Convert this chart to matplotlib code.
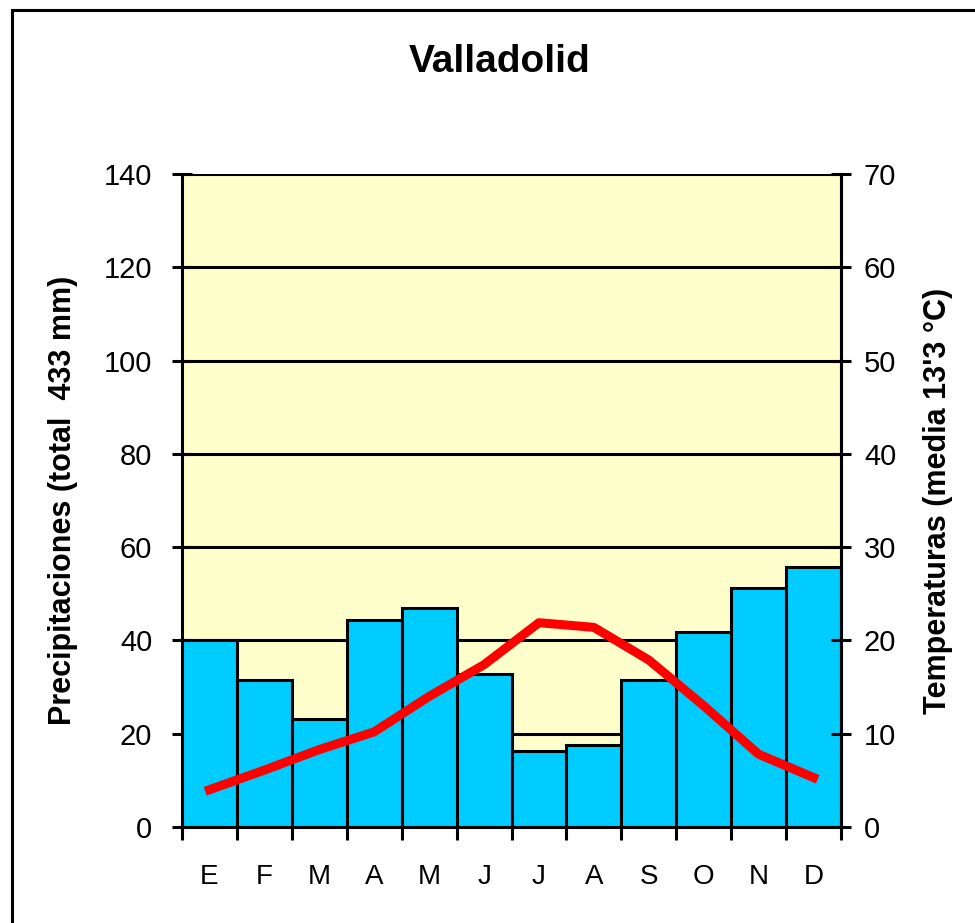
import numpy as np
import matplotlib.pyplot as plt
from matplotlib.patches import Rectangle

plt.rcParams['font.family'] = ['Liberation Sans', 'DejaVu Sans']

# datos climaticos Valladolid
meses = ['E', 'F', 'M', 'A', 'M', 'J', 'J', 'A', 'S', 'O', 'N', 'D']
precip = [40, 31.5, 23.2, 44.4, 47, 32.8, 16.3, 17.6, 31.5, 41.8, 51.2, 55.7]
temp = [4.0, 6.1, 8.3, 10.2, 14.0, 17.4, 21.9, 21.4, 17.9, 13.0, 7.8, 5.3]
ticks_izq = [0, 20, 40, 60, 80, 100, 120, 140]
ticks_der = [0, 10, 20, 30, 40, 50, 60, 70]

fig = plt.figure(figsize=(9.75, 9.23), dpi=100)
fig.patch.set_facecolor('white')
# marco negro del grafico
fig.patches.append(Rectangle((12 / 975, -0.1), 1.2, 1.1 - 10 / 923,
                             transform=fig.transFigure, fill=False,
                             edgecolor='black', linewidth=2.2))

ax = fig.add_axes([182 / 975, 1 - 827 / 923, (841 - 182) / 975, (827 - 174) / 923])
ax.set_facecolor('#FFFFCC')
x = np.arange(len(meses))

ax.set_axisbelow(True)
ax.yaxis.grid(True, color='black', linewidth=2.2)
ax.bar(x, precip, width=1.0, color='#00CCFF', edgecolor='black', linewidth=2.2, zorder=2)

ax.set_xlim(-0.5, 11.5)
ax.set_ylim(0, 140)
ax.set_yticks(ticks_izq)
ax.set_xticks(np.arange(-0.5, 12, 1))
ax.set_xticklabels([])
ax.set_xticks(x, minor=True)
ax.set_xticklabels(meses, minor=True)
ax.tick_params(axis='x', which='major', direction='out', length=9, width=2.2)
ax.tick_params(axis='x', which='minor', length=0, pad=27, labelsize=20)
ax.tick_params(axis='y', direction='inout', length=15, width=2.2, labelsize=21, pad=14)

for s in ['left', 'right', 'bottom']:
    ax.spines[s].set_linewidth(2.2)
ax.spines['top'].set_visible(False)

ax.set_ylabel('Precipitaciones (total  433 mm)', fontsize=22, fontweight='bold')
ax.yaxis.set_label_coords(-0.158, 0.5)

ax2 = ax.twinx()
ax2.plot(x, temp, color='#FF0000', linewidth=6.5, zorder=5)
ax2.set_ylim(0, 70)
ax2.set_yticks(ticks_der)
ax2.tick_params(axis='y', direction='inout', length=15, width=2.2, labelsize=21, pad=9)
ax2.spines['top'].set_visible(False)
ax2.spines['right'].set_linewidth(2.2)
ax2.set_ylabel("Temperaturas (media 13'3 °C)", fontsize=22, fontweight='bold', rotation=90)
ax2.yaxis.set_label_coords(1.1244, 0.5)

fig.text(500 / 975, 1 - 62 / 923, 'Valladolid', ha='center', va='center',
         fontsize=28, fontweight='bold')

fig.savefig('out.png', dpi=100)
